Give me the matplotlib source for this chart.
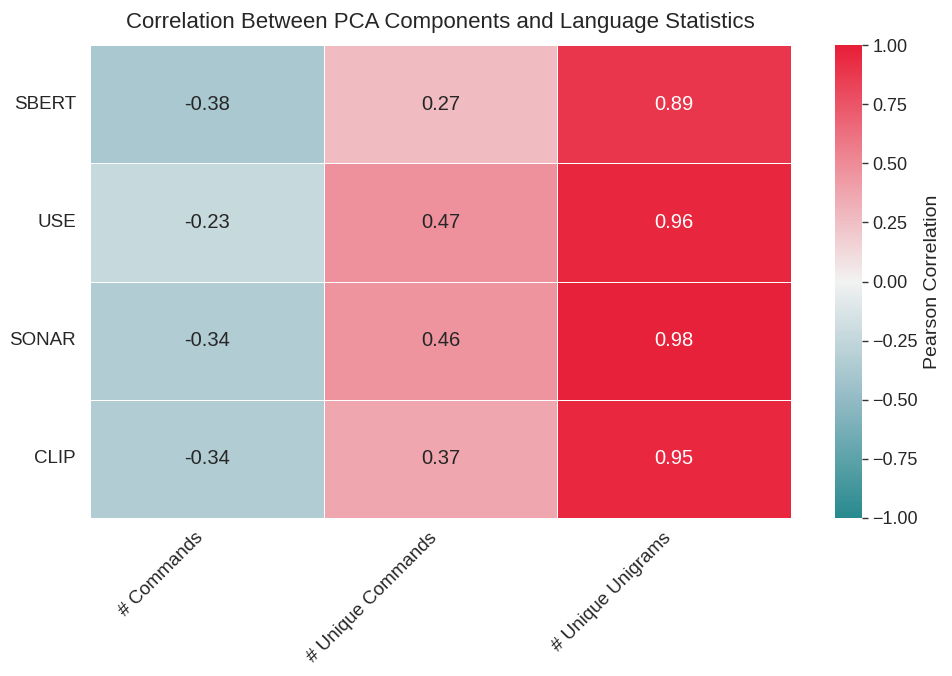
import numpy as np
import pandas as pd
import matplotlib
matplotlib.use("Agg")
import matplotlib.pyplot as plt
from matplotlib.colors import LinearSegmentedColormap
import seaborn as sns

# correlation values
models = ["SBERT", "USE", "SONAR", "CLIP"]
stats = ["# Commands", "# Unique Commands", "# Unique Unigrams"]
commands = [-0.38, -0.23, -0.34, -0.34]
unique_commands = [0.27, 0.47, 0.46, 0.37]
unique_unigrams = [0.89, 0.96, 0.98, 0.95]

corr = pd.DataFrame({stats[0]: commands, stats[1]: unique_commands, stats[2]: unique_unigrams},
                    index=models)

sns.set_theme(style="white")
plt.rcParams['font.family'] = ['Liberation Sans', 'DejaVu Sans']

fig = plt.figure(figsize=(9.52, 6.76), dpi=100)
ax = fig.add_axes([90 / 952, 1 - 518 / 676, 701 / 952, 473 / 676])
cax = fig.add_axes([835 / 952, 1 - 518 / 676, 27 / 952, 473 / 676])

# teal -> light grey -> red
cmap = LinearSegmentedColormap.from_list(
    "teal_red",
    [(0.0, "#288a8e"), (0.25, "#93bbc5"), (0.5, "#f2f2f2"),
     (0.75, "#ee8c98"), (1.0, "#e81e37")])
sns.heatmap(corr, ax=ax, cbar_ax=cax, cmap=cmap, vmin=-1, vmax=1, center=0,
            annot=True, fmt=".2f", annot_kws={"size": 14.5},
            linewidths=0.5, linecolor="white",
            cbar_kws={"label": "Pearson Correlation"})

# dark text on light cells, white on the strong red ones
for t in ax.texts:
    t.set_color("white" if float(t.get_text()) > 0.8 else "#262626")

ax.set_title("Correlation Between PCA Components and Language Statistics", fontsize=16, pad=12)
ax.set_xticklabels(ax.get_xticklabels(), rotation=45, ha="right", fontsize=13.5)
ax.set_yticklabels(ax.get_yticklabels(), rotation=0, fontsize=13.5)
ax.tick_params(axis="x", length=0, pad=8)
ax.tick_params(axis="y", length=0, pad=10)
cax.tick_params(labelsize=13, length=4, width=1, color="#333333")
cax.yaxis.label.set_size(14)

fig.savefig("out.png", dpi=100)
